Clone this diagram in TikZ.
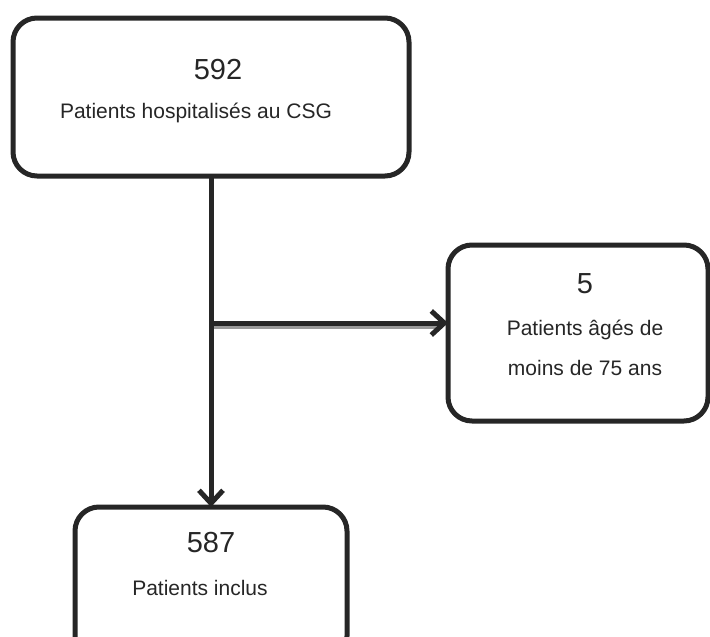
\documentclass[tikz,border=0pt]{standalone}
\usepackage{fontspec}
\setmainfont{Liberation Sans}
\usetikzlibrary{arrows.meta}
\begin{document}
\begin{tikzpicture}[x=1pt,y=-1pt,
  box/.style={draw=black!85, line width=5pt, rounded corners=24pt},
  big/.style={font=\fontsize{29}{34}\selectfont, text=black!85},
  small/.style={font=\fontsize{21}{25}\selectfont, text=black!85},
  conn/.style={draw=black!85, line width=5pt, -{Straight Barb[length=13pt,width=24pt,line width=5pt]}}]
\useasboundingbox (0,0) rectangle (710,637);
\clip (0,0) rectangle (710,637);
\draw[box] (13,18) rectangle (409,176);
\node (top) at (211,97) {};
\draw[box] (448,245) rectangle (708,421);
\node (right) at (448,323) {};
\draw[box] (75,507) rectangle (347,660);
\node (bottom) at (211,507) {};
\node[big] (n1) at (218,70) {592};
\node[small] (t1) at (196,113) {Patients hospitalisés au CSG};
\node[big] (n2) at (585,284) {5};
\node[small] (t2a) at (585,330) {Patients âgés de};
\node[small] (t2b) at (585,368) {moins de 75 ans};
\node[big] (n3) at (211,543) {587};
\node[small] (t3) at (200,588) {Patients inclus};
\coordinate (a) at (211,176);
\coordinate (b) at (211,323);
\draw[draw=black!40, line width=5pt] ([yshift=-3pt]b) -- ([yshift=-3pt,xshift=-6pt]right.center);
\draw[conn] (a) -- (bottom.center);
\draw[conn] (b) -- (right.center);
\end{tikzpicture}
\end{document}
